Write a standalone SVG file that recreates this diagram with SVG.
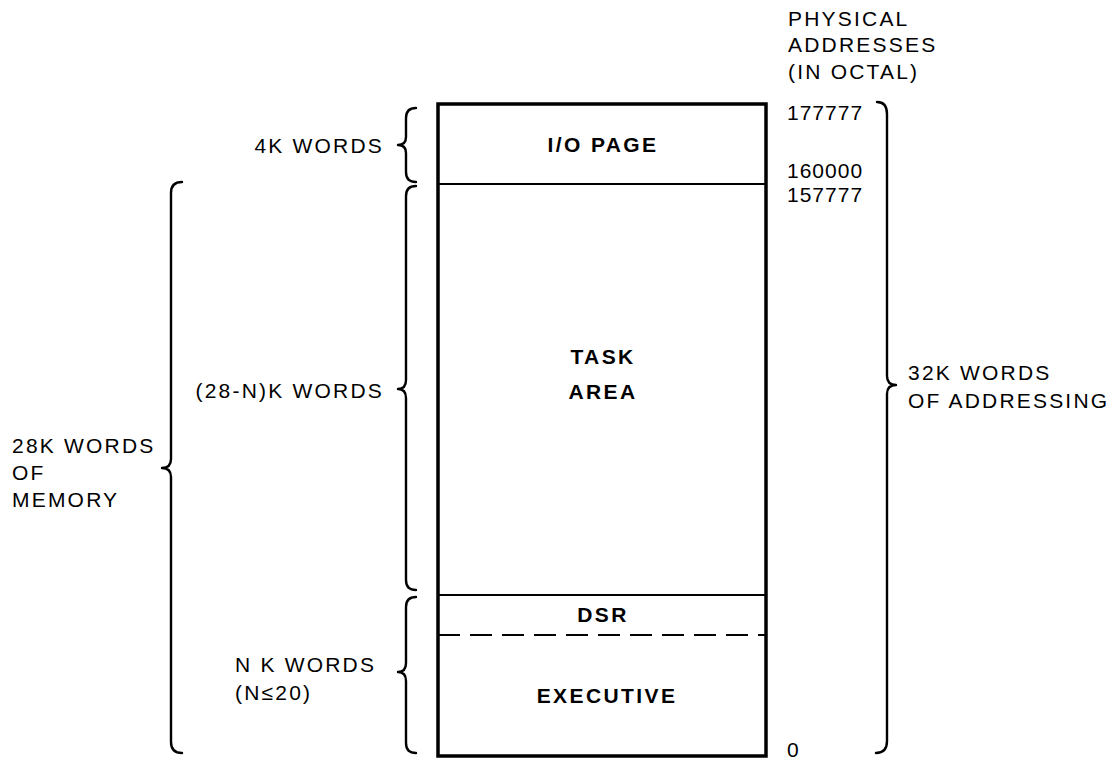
<svg xmlns="http://www.w3.org/2000/svg" width="1119" height="761" viewBox="0 0 1119 761">
<style>
text{font-family:"Liberation Sans",Arial,sans-serif;font-size:21px;fill:#000;letter-spacing:2.2px}
.b{font-weight:bold;text-anchor:middle;letter-spacing:2.4px}
.r{text-anchor:end}
.n{letter-spacing:1px}
.br{fill:none;stroke:#000;stroke-width:2.4;stroke-linecap:round;stroke-linejoin:round}
.box{fill:#fff;stroke:#000;stroke-width:3.5}
.div{stroke:#000;stroke-width:2}
</style>
<rect width="1119" height="761" fill="#fff"/>
<g id="memory-map">
<rect class="box" x="438" y="104" width="328" height="652"/>
<line class="div" x1="438" y1="184" x2="766" y2="184"/>
<line class="div" x1="438" y1="595" x2="766" y2="595"/>
<line class="div" x1="438" y1="635" x2="766" y2="635" stroke-dasharray="22 10"/>
</g>
<g id="io-page"><text class="b" x="603" y="152">I/O PAGE</text></g>
<g id="task-area"><text class="b" x="603" y="364">TASK</text><text class="b" x="603" y="399">AREA</text></g>
<g id="dsr"><text class="b" x="603" y="622">DSR</text></g>
<g id="executive"><text class="b" x="607" y="703">EXECUTIVE</text></g>
<g id="addresses">
<text x="788" y="26">PHYSICAL</text>
<text x="788" y="52">ADDRESSES</text>
<text x="788" y="79">(IN OCTAL)</text>
<text class="n" x="787" y="120">177777</text>
<text class="n" x="787" y="178">160000</text>
<text class="n" x="787" y="202">157777</text>
<text class="n" x="787" y="757">0</text>
</g>
<g id="braces">
<path class="br" d="M416,108 Q406,108 406,118 L406,137 Q406,145 398,145 Q406,145 406,153 L406,172 Q406,182 416,182"/>
<path class="br" d="M416,186 Q406,186 406,196 L406,380 Q406,389 398,389 Q406,389 406,398 L406,580 Q406,590 416,590"/>
<path class="br" d="M416,597 Q406,597 406,607 L406,663 Q406,672 398,672 Q406,672 406,681 L406,743 Q406,753 416,753"/>
<path class="br" d="M182,182 Q171,182 171,193 L171,459 Q171,468 162,468 Q171,468 171,477 L171,742 Q171,753 182,753"/>
<path class="br" d="M877,102 Q887,102 887,114 L887,376 Q887,385 896,385 Q887,385 887,394 L887,741 Q887,753 876,753"/>
</g>
<g id="labels">
<text class="r" x="384" y="153">4K WORDS</text>
<text class="r" x="384" y="398">(28-N)K WORDS</text>
<text x="235" y="672">N K WORDS</text>
<text x="235" y="700">(N≤20)</text>
<text x="12" y="453">28K WORDS</text>
<text x="12" y="480">OF</text>
<text x="12" y="507">MEMORY</text>
<text x="908" y="380">32K WORDS</text>
<text x="908" y="408">OF ADDRESSING</text>
</g>
</svg>
